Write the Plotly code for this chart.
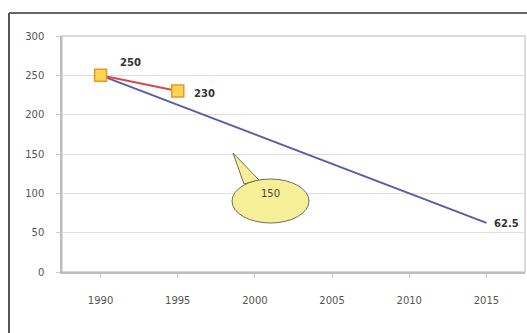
import plotly.graph_objects as go

years = ["1990", "1995", "2000", "2005", "2010", "2015"]
series_a = [250, 230, None, None, None, None]
series_b = [250, None, None, None, None, 62.5]
yticks = [0, 50, 100, 150, 200, 250, 300]
callout_text = "150"

W, H = 527, 333
L, R, T, B = 62, 2, 36, 61
pw, ph = W - L - R, H - T - B

def px(x):
    return (x - L) / pw

def py(y):
    return 1 - (y - T) / ph

fig = go.Figure()

fig.add_trace(go.Scatter(
    x=years, y=series_b, mode="lines", connectgaps=True,
    line=dict(color="#5a5aa8", width=2),
    cliponaxis=False, showlegend=False,
))
fig.add_trace(go.Scatter(
    x=years, y=series_a, mode="lines+markers", connectgaps=True,
    line=dict(color="#d84848", width=2),
    marker=dict(symbol="square", size=12, color="#ffd454",
                line=dict(color="#e8962a", width=1.5)),
    cliponaxis=False, showlegend=False,
))

label_font = dict(family="DejaVu Sans", size=10, color="#333333", weight="bold")
# data labels (category axis annotations use category index)
fig.add_annotation(x=0, y=series_a[0], text=str(series_a[0]), showarrow=False,
                   xshift=30, yshift=13, font=label_font)
fig.add_annotation(x=1, y=series_a[1], text=str(series_a[1]), showarrow=False,
                   xshift=27, yshift=-2, font=label_font)
fig.add_annotation(x=5, y=series_b[5], text=str(series_b[5]), showarrow=False,
                   xshift=20, yshift=-1, font=label_font)

shapes = [
    # outer frame (top and left)
    dict(type="line", xref="paper", yref="paper", x0=px(9), x1=px(527), y0=py(13), y1=py(13),
         line=dict(color="#333333", width=1.5)),
    dict(type="line", xref="paper", yref="paper", x0=px(9), x1=px(9), y0=py(13), y1=py(333),
         line=dict(color="#555555", width=2)),
    # plot area border
    dict(type="rect", xref="paper", yref="paper", x0=0, x1=1, y0=0, y1=1,
         line=dict(color="#cfcfcf", width=1.5), layer="below"),
    # callout wedge
    dict(type="path", xref="paper", yref="paper",
         path=f"M {px(244)},{py(184)} L {px(233)},{py(153)} L {px(259)},{py(180)} Z",
         fillcolor="#f6ef98", line=dict(color="#6e6e58", width=1)),
    # callout ellipse
    dict(type="circle", xref="paper", yref="paper", x0=px(232), x1=px(309), y0=py(223), y1=py(179),
         fillcolor="#f6ef98", line=dict(color="#6e6e58", width=1)),
]
fig.update_layout(shapes=shapes)

fig.add_annotation(xref="paper", yref="paper", x=px(270), y=py(201), text=callout_text,
                   showarrow=False, font=dict(family="DejaVu Sans", size=10, color="#444444"))

fig.update_layout(
    width=W, height=H,
    margin=dict(l=L, r=R, t=T, b=B, pad=0),
    paper_bgcolor="white", plot_bgcolor="white",
    xaxis=dict(type="category", categoryarray=years, range=[-0.5, 5.5],
               showgrid=False, showline=True, linecolor="#bdbdbd", linewidth=1.5,
               ticks="outside", ticklen=4, tickcolor="#cccccc",
               ticklabelstandoff=14,
               tickfont=dict(family="DejaVu Sans", size=10, color="#555555")),
    yaxis=dict(range=[0, 300], tickvals=yticks, showgrid=True, gridcolor="#dedede", gridwidth=1,
               showline=True, linecolor="#bdbdbd", linewidth=1.5, zeroline=False,
               ticks="outside", ticklen=4, tickcolor="#cccccc",
               ticklabelstandoff=10,
               tickfont=dict(family="DejaVu Sans", size=10, color="#555555")),
)

fig.write_html("out.html")
